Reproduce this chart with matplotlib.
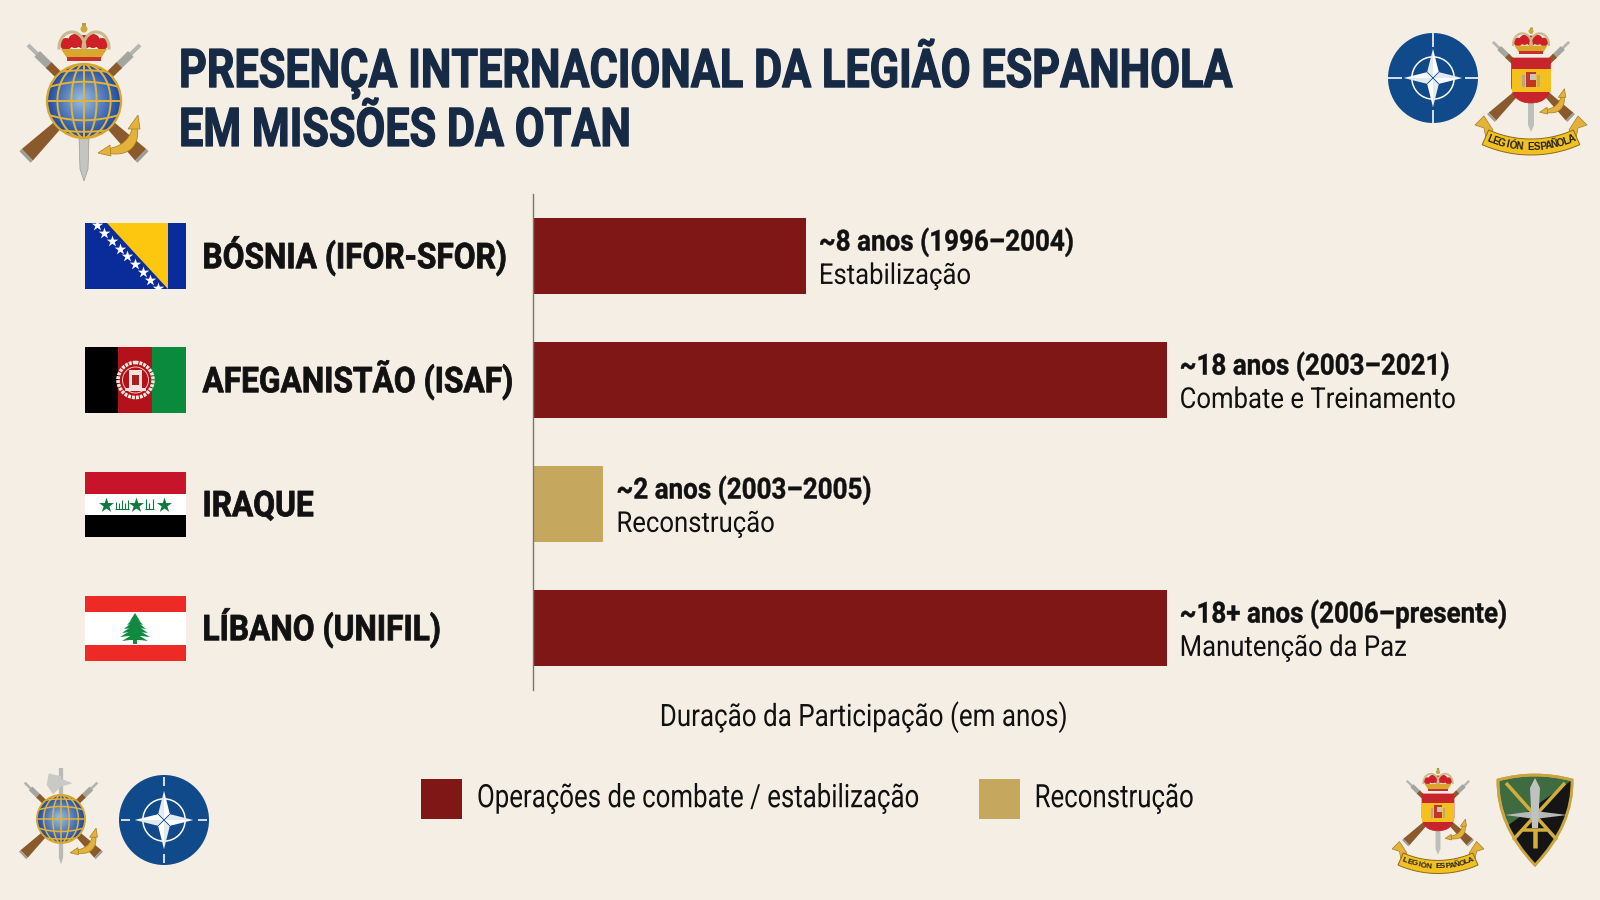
import numpy as np
import matplotlib
matplotlib.use("Agg")
import matplotlib.pyplot as plt
from matplotlib.patches import Circle, Polygon, Rectangle, PathPatch, Patch
from matplotlib.path import Path
from matplotlib.patheffects import AbstractPathEffect
from matplotlib.transforms import Affine2D, offset_copy

# chart data
missions = ["BÓSNIA (IFOR-SFOR)", "AFEGANISTÃO (ISAF)", "IRAQUE", "LÍBANO (UNIFIL)"]
years = [7.75, 18, 2, 18]
kinds = ["combate", "combate", "reconstrucao", "combate"]
duration_labels = ["~8 anos (1996–2004)", "~18 anos (2003–2021)", "~2 anos (2003–2005)", "~18+ anos (2006–presente)"]
role_labels = ["Estabilização", "Combate e Treinamento", "Reconstrução", "Manutenção da Paz"]
legend_labels = ["Operações de combate / estabilização", "Reconstrução"]
title_text = "PRESENÇA INTERNACIONAL DA LEGIÃO ESPANHOLA\nEM MISSÕES DA OTAN"
xlabel_text = "Duração da Participação (em anos)"

BG = "#F5EEE4"
NAVY = "#162A45"
RED = "#7E1716"
TAN = "#C6A75E"
GOLD = "#E3B23C"
INK = "#111111"
colors = {"combate": RED, "reconstrucao": TAN}

plt.rcParams["font.family"] = ["Roboto", "DejaVu Sans"]


class Tall(AbstractPathEffect):
    # no condensed font is installed, so stretch the glyphs upward from the baseline
    def __init__(self, k, weight=0.0):
        super().__init__()
        self.k = k
        self.weight = weight

    def draw_path(self, renderer, gc, tpath, affine, rgbFace=None):
        gc0 = renderer.new_gc()
        gc0.copy_properties(gc)
        if self.weight:
            gc0.set_foreground(rgbFace)
            gc0.set_linewidth(self.weight)
        renderer.draw_path(gc0, tpath, Affine2D().scale(1, self.k) + affine, rgbFace)
        gc0.restore()


fig = plt.figure(figsize=(16, 9), dpi=100, facecolor=BG)

# decorations are drawn in pixel coordinates on a full-figure axes
deco = fig.add_axes([0, 0, 1, 1])
deco.set_xlim(0, 1600)
deco.set_ylim(900, 0)
deco.axis("off")


def rect(x0, y0, x1, y1, color, z=2, clip=None):
    p = Rectangle((x0, y0), x1 - x0, y1 - y0, color=color, lw=0, zorder=z)
    deco.add_patch(p)
    if clip is not None:
        p.set_clip_path(clip)
    return p


def poly(pts, color, z=2, ec="none", lw=0, clip=None):
    p = Polygon(pts, closed=True, facecolor=color, edgecolor=ec, lw=lw, zorder=z)
    deco.add_patch(p)
    if clip is not None:
        p.set_clip_path(clip)
    return p


def seg(x0, y0, x1, y1, color, lw, z=2, cap="butt", clip=None):
    l, = deco.plot([x0, x1], [y0, y1], color=color, lw=lw * 0.72, zorder=z, solid_capstyle=cap)
    if clip is not None:
        l.set_clip_path(clip)
    return l


def rifle(cx, cy, s, side, z=3):
    x0, y0 = cx - side * 56 * s, cy - 56 * s
    x1, y1 = cx + side * 59 * s, cy + 56 * s
    dx, dy = x1 - x0, y1 - y0
    n = np.array([dy, -dx]) / np.hypot(dx, dy)

    def at(t):
        return np.array([x0 + dx * t, y0 + dy * t])

    seg(*at(0), *at(0.1), "#B4B4B0", 4 * s, z)
    seg(*at(0.08), *at(0.2), "#A5A5A0", 8 * s, z)
    seg(*at(0.18), *at(0.34), "#8A5A2C", 8 * s, z)
    poly([at(0.66) + n * 4 * s, at(0.66) - n * 4 * s, at(0.98) - n * 8 * s, at(0.98) + n * 8 * s], "#8A5A2C", z)
    poly([at(0.98) + n * 8 * s, at(0.98) - n * 8 * s, at(1.0) - n * 8 * s, at(1.0) + n * 8 * s], "#9C9C98", z)


def anchor(cx, cy, s, z=6):
    # curved shaft as a quadratic bezier, thickest in the middle
    t = np.linspace(0, 1, 30)[:, None]
    p0, p1, p2 = np.array([51, 26]), np.array([50, 50]), np.array([25, 50])
    mid = (1 - t) ** 2 * p0 + 2 * t * (1 - t) * p1 + t ** 2 * p2
    tang = 2 * (1 - t) * (p1 - p0) + 2 * t * (p2 - p1)
    norm = np.column_stack([-tang[:, 1], tang[:, 0]]) / np.hypot(tang[:, 0], tang[:, 1])[:, None]
    half = (2.5 + 2.5 * np.sin(np.pi * t))
    shaft = np.vstack([mid + norm * half, (mid - norm * half)[::-1]])
    off = np.array([cx, cy])
    poly(shaft * s + off, GOLD, z, "#A87C1E", 0.5)
    poly(np.array([(54, 14), (44, 28), (56, 28)]) * s + off, GOLD, z, "#A87C1E", 0.5)
    poly(np.array([(14, 52), (26, 44), (27, 55)]) * s + off, GOLD, z, "#A87C1E", 0.5)


def crown(cx, cy, w, z=6):
    u = w / 50
    for dx, dy, r in [(-18, 0, 6), (-9, -3, 7), (9, -3, 7), (18, 0, 6), (0, -2, 7)]:
        deco.add_patch(Circle((cx + dx * u, cy + dy * u), r * u, color="#CE2027", lw=0, zorder=z))
    t = np.linspace(np.pi, 2 * np.pi, 40)
    for c, a in [(-12, 13), (12, 13)]:
        deco.plot(cx + (c + a * np.cos(t)) * u, cy + 4 * u + 16 * u * np.sin(t), color="#C9B98C", lw=2.2 * u, zorder=z + 1)
    poly([(cx - 23 * u, cy + 5 * u), (cx + 23 * u, cy + 5 * u), (cx + 17 * u, cy + 14 * u), (cx - 17 * u, cy + 14 * u)], "#D9A62E", z + 1)
    rect(cx - 17 * u, cy + 13 * u, cx + 17 * u, cy + 17 * u, "#C9302A", z + 1)
    seg(cx, cy - 12 * u, cx, cy - 21 * u, "#B09A50", 4 * u, z + 2)
    deco.add_patch(Circle((cx, cy - 15 * u), 3.5 * u, color="#C9A940", lw=0, zorder=z + 2))


def globe(cx, cy, r, z=5):
    for f in np.linspace(1, 0.1, 14):
        mix = 1 - f
        col = np.array([0.13, 0.30, 0.62]) * (1 - mix) + np.array([0.62, 0.76, 0.88]) * mix
        deco.add_patch(Circle((cx - 0.08 * r * (1 - f), cy - 0.05 * r * (1 - f)), r * f, color=col, lw=0, zorder=z))
    clip = Circle((cx, cy), r, transform=deco.transData)
    t = np.linspace(0, 2 * np.pi, 80)
    lw = max(1.1, r * 0.038)
    for k in [0.34, 0.72]:
        l, = deco.plot(cx + k * r * np.cos(t), cy + r * np.sin(t), color=GOLD, lw=lw, zorder=z + 1)
        l.set_clip_path(clip)
    seg(cx, cy - r, cx, cy + r, GOLD, lw / 0.72, z + 1)
    seg(cx - r, cy, cx + r, cy, GOLD, lw / 0.72, z + 1)
    xs = np.linspace(-r, r, 50)
    for off, bend in [(-0.52, 0.16), (0.52, -0.16), (-0.83, 0.1), (0.83, -0.1)]:
        ys = cy + off * r + bend * r * (xs / r) ** 2
        l, = deco.plot(cx + xs, ys, color=GOLD, lw=lw, zorder=z + 1)
        l.set_clip_path(clip)
    deco.add_patch(Circle((cx, cy), r, fill=False, ec="#D9A62E", lw=lw * 1.2, zorder=z + 2))


def legion_globe(cx, cy, s, halberd=False):
    rifle(cx, cy, s, 1)
    rifle(cx, cy, s, -1)
    if halberd:
        seg(cx, cy - 78 * s, cx, cy + 60 * s, "#B9B9B5", 6.5 * s, 4)
        poly([(cx, cy - 66 * s), (cx - 19 * s, cy - 70 * s), (cx - 22 * s, cy - 52 * s), (cx - 12 * s, cy - 38 * s), (cx, cy - 50 * s)], "#C9C9C5", 4)
        poly([(cx, cy - 62 * s), (cx + 18 * s, cy - 55 * s), (cx, cy - 50 * s)], "#C9C9C5", 4)
        poly([(cx - 3 * s, cy + 60 * s), (cx + 3 * s, cy + 60 * s), (cx, cy + 70 * s)], "#B9B9B5", 4)
    else:
        poly([(cx - 5, cy + 36), (cx + 5, cy + 36), (cx + 4, cy + 68), (cx, cy + 80), (cx - 4, cy + 68)], "#C4C4C0", 4, "#9A9A96", 0.5)
    globe(cx, cy, 37 * s)
    if not halberd:
        crown(cx, cy - 57 * s, 50 * s)
    anchor(cx, cy, s)


def nato(cx, cy, r, tick_in=0.7, tick_out=1.0, z=3):
    blue = "#114A8B"
    deco.add_patch(Circle((cx, cy), r, color=blue, lw=0, zorder=z))
    deco.add_patch(Circle((cx, cy), 0.47 * r, fill=False, ec="white", lw=1.1, zorder=z + 1))
    for a in np.radians([0, 90, 180, 270]):
        ca, sa = np.cos(a), np.sin(a)
        seg(cx + tick_in * r * ca, cy + tick_in * r * sa, cx + tick_out * r * ca, cy + tick_out * r * sa, "white", 1.6, z + 1)
        px, py = -sa, ca
        tip = (cx + 0.65 * r * ca, cy + 0.65 * r * sa)
        w = 0.13 * r
        b1 = (cx + 0.13 * r * ca + w * px, cy + 0.13 * r * sa + w * py)
        b2 = (cx + 0.13 * r * ca - w * px, cy + 0.13 * r * sa - w * py)
        poly([b1, tip, (cx, cy)], "white", z + 2)
        poly([b2, tip, (cx, cy)], "#E4EAF1", z + 2)
    for a in np.radians([45, 135, 225, 315]):
        ca, sa = np.cos(a), np.sin(a)
        seg(cx, cy, cx + 0.18 * r * ca, cy + 0.18 * r * sa, blue, 0.8, z + 3)


def spanish_shield(cx, cy, s):
    rifle(cx, cy, s * 0.68, 1)
    rifle(cx, cy, s * 0.68, -1)
    poly([(cx - 3 * s, cy + 15 * s), (cx + 3 * s, cy + 15 * s), (cx + 3 * s, cy + 45 * s), (cx, cy + 52 * s), (cx - 3 * s, cy + 45 * s)], "#BEBEBA", 4)
    verts = [(cx - 19.5 * s, cy - 22 * s), (cx + 19.5 * s, cy - 22 * s), (cx + 19.5 * s, cy + 6 * s),
             (cx + 18 * s, cy + 23 * s), (cx, cy + 23 * s), (cx - 18 * s, cy + 23 * s), (cx - 19.5 * s, cy + 6 * s),
             (cx - 19.5 * s, cy - 22 * s)]
    codes = [Path.MOVETO, Path.LINETO, Path.LINETO, Path.CURVE3, Path.CURVE3, Path.CURVE3, Path.CURVE3, Path.CLOSEPOLY]
    shape = PathPatch(Path(verts, codes), facecolor="#C8242B", edgecolor="#C8242B", lw=0.5, zorder=5)
    deco.add_patch(shape)
    rect(cx - 19.5 * s, cy - 11.5 * s, cx + 19.5 * s, cy + 12 * s, "#F3C01D", 6)
    rect(cx - 5 * s, cy - 8 * s, cx + 5 * s, cy + 7 * s, "#C2352B", 7)
    rect(cx - 1 * s, cy - 6 * s, cx + 5 * s, cy + 0 * s, "#C9C4B5", 8)
    rect(cx - 9 * s, cy - 5 * s, cx - 6 * s, cy + 7 * s, "#B9A78A", 7)
    rect(cx + 6 * s, cy - 5 * s, cx + 9 * s, cy + 7 * s, "#B9A78A", 7)
    crown(cx, cy - 38 * s, 36 * s, z=6)
    anchor(cx, cy, s * 0.62)
    # scroll with the motto
    ang = np.radians(np.linspace(-24, 24, 40))
    top = np.column_stack([cx + 104 * s * np.sin(ang), cy + (-45 + 104 * np.cos(ang)) * s])
    bot = np.column_stack([cx + 120 * s * np.sin(ang), cy + (-45 + 120 * np.cos(ang)) * s])
    for side in (-1, 1):
        poly([(cx + side * 56 * s, cy + 45 * s), (cx + side * 47 * s, cy + 36 * s), (cx + side * 38 * s, cy + 50 * s),
              (cx + side * 45 * s, cy + 58 * s), (cx + side * 47 * s, cy + 48 * s)], GOLD, 6, "#A87C1E", 0.5)
    poly(np.vstack([top, bot[::-1]]), "#F2C020", 7, "#8A6A18", 0.7)
    word = "LEGIÓN ESPAÑOLA"
    for i, ch in enumerate(word):
        a = np.radians((i - (len(word) - 1) / 2) * 3.05)
        deco.text(cx + 112 * s * np.sin(a), cy + (-45 + 112 * np.cos(a)) * s, ch, rotation=np.degrees(a),
                  rotation_mode="anchor", ha="center", va="center", fontsize=7.2 * s, fontweight="bold",
                  color="#222222", zorder=8, family=["Liberation Sans", "DejaVu Sans"])


def green_shield():
    verts = [(1498, 780), (1535, 770), (1572, 780), (1573, 825), (1535, 865), (1497, 825), (1498, 780), (1498, 780)]
    codes = [Path.MOVETO, Path.CURVE3, Path.CURVE3, Path.CURVE3, Path.CURVE3, Path.CURVE3, Path.CURVE3, Path.CLOSEPOLY]
    shape = PathPatch(Path(verts, codes), facecolor="#3F6B40", edgecolor="#C9A440", lw=2, zorder=3)
    deco.add_patch(shape)
    poly([(1575, 778), (1575, 870), (1490, 870), (1490, 838)], "#151515", 4, clip=shape)
    deco.add_patch(PathPatch(Path(verts, codes), fill=False, edgecolor="#C9A440", lw=2, zorder=5))
    seg(1506, 783, 1557, 840, "#D2AE3C", 3.5, 6)
    seg(1565, 783, 1513, 840, "#D2AE3C", 3.5, 6)
    poly([(1505, 815), (1535, 811), (1567, 815), (1535, 819)], "#B7B9B6", 7)
    poly([(1530, 788), (1535, 778), (1540, 788), (1538, 828), (1532, 828)], "#C0C2BF", 8)
    seg(1523, 830, 1547, 830, "#D2AE3C", 3.5, 9)
    seg(1535, 830, 1535, 848, "#D2AE3C", 4.5, 9)


def flags():
    x0, x1 = 85, 186
    # Bosnia
    y0, y1 = 223, 289
    f = rect(x0, y0, x1, y1, "#0A2C9A")
    poly([(107, y0), (168, y0), (168, y1)], "#FDC70F", 3)
    sx = 96 + 7.67 * np.arange(9)
    sy = 225 + 7.85 * np.arange(9)
    pts = deco.scatter(sx + 0.5, sy, marker="*", s=75, color="white", lw=0, zorder=4)
    pts.set_clip_path(f)
    # Afghanistan
    y0, y1 = 347, 413
    rect(x0, y0, 118, y1, "#000000")
    rect(118, y0, 152, y1, "#B3121A")
    rect(152, y0, x1, y1, "#0A8A3C")
    deco.add_patch(Circle((135.5, 380), 17.5, fill=False, ec="#F6E9E0", lw=2.6, ls=(0, (0.8, 0.3)), zorder=4))
    deco.add_patch(Circle((135.5, 380), 13, fill=False, ec="#F0C8C0", lw=0.7, zorder=4))
    rect(129, 370, 142, 389, "#F3E3DC", 4)
    rect(132, 375, 139, 385, "#A52020", 5)
    rect(125, 388, 146, 391, "#F3E3DC", 4)
    # Iraq
    y0, y1 = 472, 537
    rect(x0, y0, x1, 494, "#C8142B")
    rect(x0, 494, x1, 515, "#FFFFFF")
    rect(x0, 515, x1, y1, "#000000")
    green = "#0D7A3E"
    deco.scatter([106, 136, 164], [504.5] * 3, marker="*", s=130, color=green, lw=0, zorder=4)
    for x, top in [(116, 502), (119, 503), (122, 500), (125, 503), (128, 500), (146, 499), (149, 503), (153, 499)]:
        seg(x, top, x, 509, green, 1.1, 4)
    seg(115, 509, 129, 509, green, 1.1, 4)
    seg(145, 509, 154, 509, green, 1.1, 4)
    # Lebanon
    y0, y1 = 596, 661
    rect(x0, y0, x1, y1, "#EE2A27")
    rect(x0, 612, x1, 645, "#FFFFFF")
    tree = "#108A3E"
    for top, bot, w in [(613, 621, 5), (616, 625, 8), (620, 629, 11), (624, 633, 13), (628, 637, 15), (633, 641, 13)]:
        poly([(135, top), (135 + w, bot), (135 + w * 0.4, bot - 1), (135 - w * 0.4, bot - 1), (135 - w, bot)], tree, 4)
    rect(133, 638, 137, 644, tree, 4)


# emblems around the chart
legion_globe(84, 101, 1.0)
legion_globe(61, 819, 0.65, halberd=True)
nato(1433, 78, 45)
nato(164, 820, 45, tick_in=0.75, tick_out=0.95)
spanish_shield(1531, 80, 1.0)
spanish_shield(1438, 812, 0.82)
green_shield()
flags()

title = fig.text(179 / 1600, 1 - 146 / 900, title_text, fontsize=31.1, fontweight="bold", color=NAVY,
                 ha="left", va="baseline", linespacing=1.56)
title.set_path_effects([Tall(1.24, 0.9)])

# the chart itself
ax = fig.add_axes([533 / 1600, (900 - 690) / 900, 1067 / 1600, 496 / 900])
ax.patch.set_alpha(0)
ypos = np.arange(len(missions))
ax.barh(ypos, years, height=0.605, color=[colors[k] for k in kinds])
ax.set_xlim(0, 1067 / 35.2)
ax.set_ylim(3.5, -0.5)
ax.set_xticks([])
ax.set_yticks(ypos, missions, fontsize=22.8, fontweight="bold", color=INK, ha="left", va="baseline")
ax.tick_params(axis="y", length=0, pad=238)
for lab in ax.get_yticklabels():
    lab.set_transform(offset_copy(lab.get_transform(), fig=fig, y=-8.8, units="points"))
    lab.set_path_effects([Tall(1.12, 0.6)])
for name in ["top", "right", "bottom"]:
    ax.spines[name].set_visible(False)
ax.spines["left"].set_color("#777770")
ax.spines["left"].set_linewidth(1)

for i in ypos:
    t1 = ax.annotate(duration_labels[i], (years[i], i), xytext=(9.4, 3.9), textcoords="offset points",
                     fontsize=18.7, fontweight="bold", color=INK, ha="left", va="baseline")
    t1.set_path_effects([Tall(1.12, 0.3)])
    t2 = ax.annotate(role_labels[i], (years[i], i), xytext=(9.4, -20.1), textcoords="offset points",
                     fontsize=18.5, color=INK, ha="left", va="baseline")
    t2.set_path_effects([Tall(1.12)])

ax.set_xlabel(xlabel_text, fontsize=18.7, color=INK, va="baseline")
ax.xaxis.set_label_coords(0.31, -0.0726)
ax.xaxis.label.set_path_effects([Tall(1.19)])

handles = [Patch(color=RED, lw=0), Patch(color=TAN, lw=0)]
leg = fig.legend(handles, legend_labels, ncols=2, loc="center", bbox_to_anchor=(807.5 / 1600, 1 - 799 / 900),
                 frameon=False, fontsize=18.6, labelcolor=INK, borderpad=0, handlelength=1.58,
                 handleheight=2.0, handletextpad=0.58, columnspacing=2.3)
for t in leg.get_texts():
    t.set_path_effects([Tall(1.25)])

fig.savefig("out.png", dpi=100, facecolor=BG)
